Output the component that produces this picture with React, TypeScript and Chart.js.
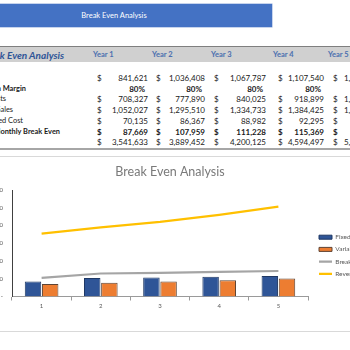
import React, { useEffect, useRef } from 'react';
import { Chart, registerables } from 'chart.js';

Chart.register(...registerables);

// ---- data ----
const years = ['Year 1', 'Year 2', 'Year 3', 'Year 4', 'Year 5'];
const chartLabels = ['1', '2', '3', '4', '5'];
const rowLabels = ['', 'Contribution Margin', 'Variable Costs', 'Break Even Sales', 'Monthly Fixed Cost', 'Monthly Break Even', ''];
const fixedCosts = [841621, 1036408, 1067787, 1107540, 1150000];
const contributionMargin = [0.8, 0.8, 0.8, 0.8, 0.8];
const variableCosts = [708327, 777890, 840025, 918899, 1012000];
const breakEvenSales = [1052027, 1295510, 1334733, 1384425, 1437500];
const monthlyFixedCost = [70135, 86367, 88982, 92295, 95833];
const monthlyBreakEven = [87669, 107959, 111228, 115369, 119792];
const revenue = [3541633, 3889452, 4200125, 4594497, 5060000];
const legendNames = ['Fixed Cost', 'Variable Cost', 'Break Even Sales', 'Revenue'];
const yMax = 6000000;
const yStep = 1000000;

// ---- layout constants ----
const FONT = 'Lato, "Open Sans", sans-serif';
const ROW_TOP = 73;
const ROW_H = 10.7;
const DOLLAR_X = [97, 156, 214, 278, 333];
const VALUE_RIGHT = [148, 205, 266, 324, 380];
const HEADER_X = [93, 152, 211, 273, 328];
const LABEL_RIGHT = [0, 26, 6, 13, 23, 60, 0];
const BOLD_ROWS = [1, 5];

const tableRows = [fixedCosts, contributionMargin, variableCosts, breakEvenSales, monthlyFixedCost, monthlyBreakEven, revenue];

const CANVAS_LEFT = -60;
const CANVAS_TOP = 158;
const CANVAS_W = 460;
const CANVAS_H = 172;
const LEGEND_W = 92;

function fmt(v: number) {
  return v.toLocaleString('en-US');
}

function BreakEvenChart() {
  const ref = useRef<HTMLCanvasElement | null>(null);
  useEffect(() => {
    if (!ref.current) return;
    const legendPlacer = {
      id: 'legendPlacer',
      beforeLayout(chart: any) {
        const lg = chart.legend;
        if (lg && !lg.__fixedWidth) {
          const origFit = lg.fit;
          lg.fit = function (...args: any[]) {
            origFit.apply(this, args);
            this.width = LEGEND_W;
          };
          lg.__fixedWidth = true;
        }
      },
      afterLayout(chart: any) {
        const lg = chart.legend;
        if (!lg) return;
        const w = lg.right - lg.left;
        const h = lg.bottom - lg.top;
        const pad = 5.7;
        lg.left = 319 - CANVAS_LEFT - pad;
        lg.right = lg.left + w;
        lg.top = 255.5 - CANVAS_TOP - h / 2;
        lg.bottom = lg.top + h;
      },
    };
    const chart = new Chart(ref.current, {
      type: 'bar',
      data: {
        labels: chartLabels,
        datasets: [
          {
            type: 'bar',
            label: legendNames[0],
            data: fixedCosts,
            backgroundColor: '#2F5597',
            borderColor: '#1F3864',
            borderWidth: 1,
            categoryPercentage: 0.58,
            barPercentage: 0.96,
            pointStyle: 'rect',
          } as any,
          {
            type: 'bar',
            label: legendNames[1],
            data: variableCosts,
            backgroundColor: '#ED7D31',
            borderColor: '#5E4434',
            borderWidth: 1,
            categoryPercentage: 0.58,
            barPercentage: 0.96,
            pointStyle: 'rect',
          } as any,
          {
            type: 'line',
            label: legendNames[2],
            data: breakEvenSales,
            borderColor: '#A5A5A5',
            backgroundColor: '#A5A5A5',
            borderWidth: 2.2,
            pointRadius: 0,
            pointStyle: 'line',
            tension: 0,
          } as any,
          {
            type: 'line',
            label: legendNames[3],
            data: revenue,
            borderColor: '#FFC000',
            backgroundColor: '#FFC000',
            borderWidth: 2.2,
            pointRadius: 0,
            pointStyle: 'line',
            tension: 0,
          } as any,
        ],
      },
      options: {
        animation: false,
        responsive: false,
        maintainAspectRatio: false,
        layout: { padding: { left: 0, right: 0, top: 0, bottom: 19.3 } },
        plugins: {
          title: {
            display: true,
            text: 'Break Even Analysis',
            color: '#7a7a7a',
            font: { family: FONT, size: 12.5, weight: 'normal' },
            padding: { top: 6, bottom: 11 },
          },
          legend: {
            position: 'right',
            labels: {
              usePointStyle: true,
              pointStyleWidth: 13,
              boxHeight: 4,
              padding: 5.7,
              color: '#595959',
              font: { family: FONT, size: 6.5 },
            },
          },
          tooltip: { enabled: false },
        },
        scales: {
          x: {
            grid: { display: true, drawOnChartArea: false, tickLength: 4, color: '#9a9a9a', offset: true },
            border: { display: true, color: '#9a9a9a', width: 1 },
            ticks: { color: '#595959', font: { family: FONT, size: 6 }, padding: 1.5 },
          },
          y: {
            min: 0,
            max: yMax,
            grid: { display: false, drawTicks: false },
            border: { display: true, color: '#404040', width: 1 },
            ticks: {
              stepSize: yStep,
              padding: 9,
              color: '#595959',
              font: { family: FONT, size: 6 },
              callback: (v: any) => (Number(v) === 0 ? '-' : fmt(Number(v))),
            },
            afterFit: (s: any) => {
              s.width = 72;
            },
          },
        },
      } as any,
      plugins: [legendPlacer],
    });
    return () => chart.destroy();
  }, []);
  return (
    <canvas
      ref={ref}
      width={CANVAS_W}
      height={CANVAS_H}
      style={{ position: 'absolute', left: CANVAS_LEFT, top: CANVAS_TOP, width: CANVAS_W, height: CANVAS_H }}
    />
  );
}

export default function App() {
  const cells: React.ReactNode[] = [];
  tableRows.forEach((row, r) => {
    const top = ROW_TOP + r * ROW_H;
    const bold = BOLD_ROWS.includes(r);
    if (rowLabels[r]) {
      cells.push(
        <div
          key={'l' + r}
          style={{
            position: 'absolute',
            left: LABEL_RIGHT[r] - 150,
            width: 150,
            top,
            height: ROW_H,
            lineHeight: ROW_H + 'px',
            textAlign: 'right',
            fontSize: 7.4,
            fontWeight: bold ? 700 : 400,
            whiteSpace: 'nowrap',
          }}
        >
          {rowLabels[r]}
        </div>
      );
    }
    row.forEach((v, c) => {
      const isPct = r === 1;
      if (!isPct) {
        cells.push(
          <div
            key={'d' + r + '-' + c}
            style={{ position: 'absolute', left: DOLLAR_X[c], top, height: ROW_H, lineHeight: ROW_H + 'px', fontWeight: bold ? 700 : 400 }}
          >
            $
          </div>
        );
      }
      const right = isPct ? VALUE_RIGHT[c] - 3 : VALUE_RIGHT[c];
      cells.push(
        <div
          key={'v' + r + '-' + c}
          style={{
            position: 'absolute',
            left: right - 80,
            width: 80,
            top,
            height: ROW_H,
            lineHeight: ROW_H + 'px',
            textAlign: 'right',
            fontWeight: bold || isPct ? 700 : 400,
            whiteSpace: 'nowrap',
          }}
        >
          {isPct ? Math.round(v * 100) + '%' : fmt(v)}
        </div>
      );
    });
  });

  return (
    <div
      style={{
        position: 'fixed',
        left: 0,
        top: 0,
        width: 350,
        height: 350,
        overflow: 'hidden',
        background: '#fff',
        fontFamily: FONT,
        fontSize: 8,
        color: '#1a1a1a',
      }}
    >
      {/* banner */}
      <div
        style={{
          position: 'absolute',
          left: -44,
          top: 4,
          width: 316,
          height: 23,
          background: '#4472C4',
          boxShadow: '0 0 0 0.5px #8faadc',
          color: '#fff',
          fontSize: 7.5,
          lineHeight: '23px',
          textAlign: 'center',
        }}
      >
        Break Even Analysis
      </div>
      {/* header row */}
      <div
        style={{
          position: 'absolute',
          left: 0,
          top: 46,
          width: 350,
          height: 15,
          background: '#D0D0D0',
          borderTop: '1.5px solid #7F7F7F',
        }}
      />
      <div
        style={{
          position: 'absolute',
          left: 64 - 150,
          width: 150,
          top: 47.5,
          height: 14,
          lineHeight: '14px',
          textAlign: 'right',
          fontWeight: 700,
          fontStyle: 'italic',
          fontSize: 10,
          color: '#2F5597',
          whiteSpace: 'nowrap',
        }}
      >
        Break Even Analysis
      </div>
      {years.map((y, i) => (
        <div
          key={y}
          style={{
            position: 'absolute',
            left: HEADER_X[i],
            top: 47.5,
            height: 14,
            lineHeight: '14px',
            fontWeight: 700,
            fontSize: 7.5,
            color: '#4A6FAF',
            whiteSpace: 'nowrap',
          }}
        >
          {y}
        </div>
      ))}
      {cells}
      {/* bottom border of table */}
      <div style={{ position: 'absolute', left: 0, top: 147.5, width: 350, height: 2, background: '#A6A6A6' }} />
      {/* chart frame */}
      <div
        style={{
          position: 'absolute',
          left: -10,
          top: 156,
          width: 370,
          height: 174,
          border: '1.5px solid #D9D9D9',
          background: '#fff',
        }}
      />
      <BreakEvenChart />
    </div>
  );
}
